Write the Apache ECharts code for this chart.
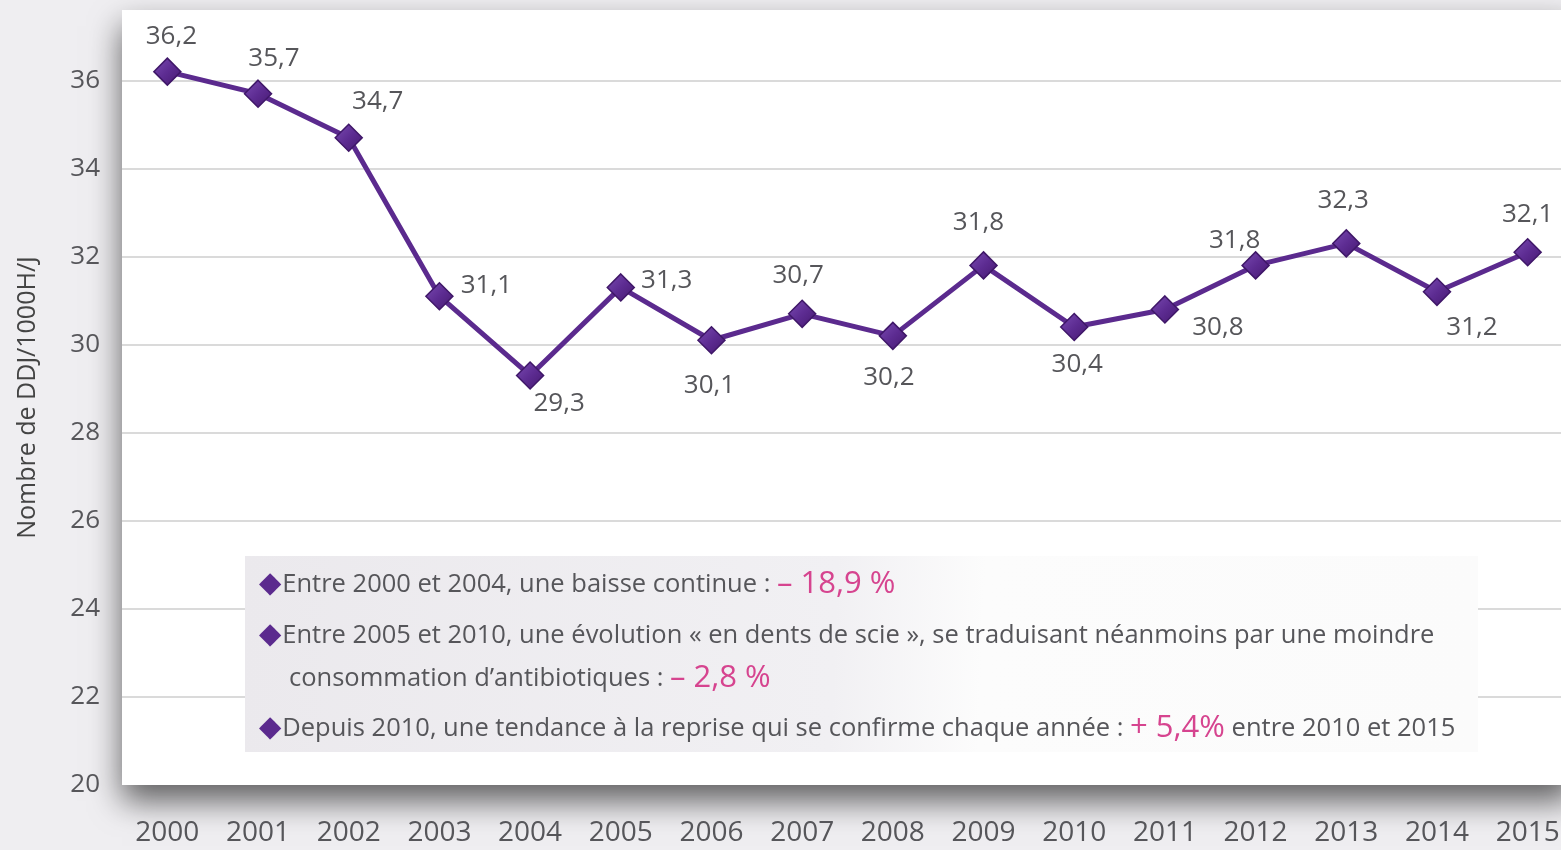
<!DOCTYPE html>
<html>
<head>
<meta charset="utf-8">
<script src="https://cdn.jsdelivr.net/npm/echarts@6/dist/echarts.min.js"></script>
<style>
html,body{margin:0;padding:0;background:#efeef1;}
#chart{width:1561px;height:850px;}
</style>
</head>
<body>
<div id="chart"></div>
<script>
// ---- data ----
const years = ['2000','2001','2002','2003','2004','2005','2006','2007','2008','2009','2010','2011','2012','2013','2014','2015'];
const values = [36.2, 35.7, 34.7, 31.1, 29.3, 31.3, 30.1, 30.7, 30.2, 31.8, 30.4, 30.8, 31.8, 32.3, 31.2, 32.1];
const yAxisName = 'Nombre de DDJ/1000H/J';
const note1 = ['Entre 2000 et 2004, une baisse continue : ', '– 18,9 %'];
const note2 = ['Entre 2005 et 2010, une évolution « en dents de scie », se traduisant néanmoins par une moindre'];
const note3 = ['consommation d\u2019antibiotiques : ', '– 2,8 %'];
const note4 = ['Depuis 2010, une tendance à la reprise qui se confirme chaque année : ', '+ 5,4%', ' entre 2010 et 2015'];

// ---- styling (label placement per point, in px relative to the marker) ----
const labelOffsets = [
  [4,-35],[16,-35],[29,-36],[47,-11],[29,28],[46,-7],[-2,45],[-4,-38],
  [-4,42],[-5,-43],[3,38],[53,18],[-21,-25],[-3,-43],[35,36],[0,-38]
];

const FONT = '"Open Sans", Lato, sans-serif';
const PURPLE = '#5b2a8e';
const PINK = '#d6448f';
const TXT = '#56565a';

const chart = echarts.init(document.getElementById('chart'));

const seriesData = values.map((v, i) => ({
  value: v,
  label: { offset: labelOffsets[i] }
}));

const rich = {
  d: { fontSize: 29, fill: PURPLE, fontFamily: 'DejaVu Sans', lineHeight: 36, padding: [0, 1, 0, 0] },
  t: { fontSize: 25.5, fill: TXT, fontFamily: FONT, lineHeight: 36 },
  p: { fontSize: 31, fill: PINK, fontFamily: FONT, lineHeight: 36 }
};

const option = {
  backgroundColor: '#efeef1',
  animation: false,
  grid: {
    left: 122, width: 1451, top: 10, bottom: 65,
    outerBoundsMode: 'none',
    containLabel: false,
    show: true,
    backgroundColor: '#ffffff',
    borderWidth: 0,
    shadowColor: 'rgba(0,0,0,0.6)',
    shadowBlur: 30,
    shadowOffsetY: 16,
    shadowOffsetX: 0
  },
  xAxis: {
    type: 'category',
    data: years,
    boundaryGap: true,
    axisLine: { show: false },
    axisTick: { show: false },
    axisLabel: { color: TXT, fontSize: 28, fontFamily: FONT, margin: 34 }
  },
  yAxis: {
    type: 'value',
    min: 20, max: 37.6, interval: 2,
    name: yAxisName,
    nameLocation: 'middle',
    nameGap: 82,
    nameRotate: 90,
    nameTextStyle: { color: '#444', fontSize: 25, fontFamily: FONT },
    axisLine: { show: false },
    axisTick: { show: false },
    axisLabel: { color: TXT, fontSize: 26, fontFamily: FONT, margin: 22, showMaxLabel: false },
    splitLine: { show: true, showMaxLine: false, showMinLine: false, lineStyle: { color: '#dadada', width: 2 } }
  },
  graphic: [
    {
      type: 'rect', left: 245, top: 556, z: 50,
      shape: { width: 1233, height: 196 },
      style: {
        fill: new echarts.graphic.LinearGradient(0, 0, 1, 0.25, [
          { offset: 0, color: '#ebe9ed' },
          { offset: 0.48, color: '#f1f0f3' },
          { offset: 0.6, color: '#fcfcfc' },
          { offset: 1, color: '#fbfbfb' }
        ])
      }
    },
    {
      type: 'text', left: 259, top: 569, z: 51,
      style: { text: '{d|◆}{t|' + note1[0] + '}{p|' + note1[1] + '}', rich: rich }
    },
    {
      type: 'text', left: 259, top: 621, z: 51,
      style: { text: '{d|◆}{t|' + note2[0] + '}', rich: rich }
    },
    {
      type: 'text', left: 289, top: 663, z: 51,
      style: { text: '{t|' + note3[0] + '}{p|' + note3[1] + '}', rich: rich }
    },
    {
      type: 'text', left: 259, top: 713, z: 51,
      style: { text: '{d|◆}{t|' + note4[0] + '}{p|' + note4[1] + '}{t|' + note4[2] + '}', rich: rich }
    }
  ],
  series: [{
    type: 'line',
    data: seriesData,
    clip: false,
    z: 10,
    lineStyle: { color: PURPLE, width: 5 },
    symbol: 'diamond',
    symbolSize: [27, 27],
    itemStyle: {
      color: new echarts.graphic.LinearGradient(0, 0, 1, 1, [
        { offset: 0, color: '#7b4cb3' },
        { offset: 0.5, color: '#5d2c92' },
        { offset: 1, color: '#45186f' }
      ]),
      borderColor: '#3f1768',
      borderWidth: 1.5
    },
    label: {
      show: true,
      position: 'inside',
      color: TXT,
      fontSize: 26,
      fontFamily: FONT,
      formatter: p => String(p.value).replace('.', ',')
    }
  }]
};

chart.setOption(option);
</script>
</body>
</html>
